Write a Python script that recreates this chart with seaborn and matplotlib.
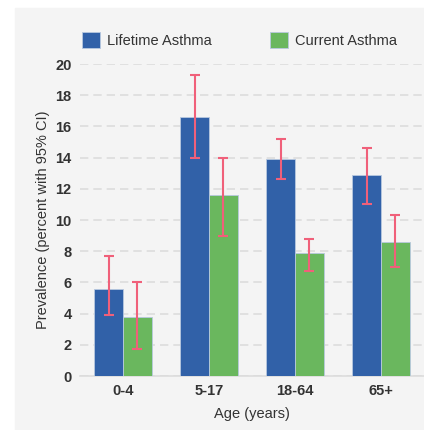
import matplotlib
matplotlib.use("Agg")
import matplotlib.pyplot as plt
import matplotlib.patches as mpatches
import pandas as pd
import seaborn as sns

ages = ["0-4", "5-17", "18-64", "65+"]
series = ["Lifetime Asthma", "Current Asthma"]
lifetime = [5.6, 16.6, 13.9, 12.9]
lifetime_lo = [3.9, 14.0, 12.6, 11.0]
lifetime_hi = [7.7, 19.3, 15.2, 14.6]
current = [3.8, 11.6, 7.9, 8.6]
current_lo = [1.7, 9.0, 6.7, 7.0]
current_hi = [6.0, 14.0, 8.8, 10.3]

df = pd.DataFrame({
    "age": ages * 2,
    "series": [series[0]] * 4 + [series[1]] * 4,
    "value": lifetime + current,
    "lo": lifetime_lo + current_lo,
    "hi": lifetime_hi + current_hi,
})

sns.set_style("white")
plt.rcParams["font.family"] = ["Liberation Sans", "DejaVu Sans"]

fig = plt.figure(figsize=(4.24, 4.30), dpi=100)
bg = "#f4f4f4"
fig.add_artist(mpatches.Rectangle((15 / 424, 0), 1, 1 - 8 / 430,
                                  transform=fig.transFigure, color=bg, zorder=-10))
ax = fig.add_axes([80 / 424, 54 / 430, 344 / 424, 312 / 430])
ax.set_facecolor(bg)

palette = {"Lifetime Asthma": "#3161a8", "Current Asthma": "#6ab75e"}
sns.barplot(data=df, x="age", y="value", hue="series", order=ages, hue_order=series,
            palette=palette, errorbar=None, width=0.665, saturation=1,
            edgecolor="#b8c8e0", linewidth=0.6, ax=ax, zorder=3)

# error bars (95% CI)
for cont, s in zip(ax.containers, series):
    sub = df[df["series"] == s].set_index("age").loc[ages]
    xs = [b.get_x() + b.get_width() / 2 for b in cont]
    ax.errorbar(xs, sub["value"], yerr=[sub["value"] - sub["lo"], sub["hi"] - sub["value"]],
                fmt="none", ecolor="#f0607a", elinewidth=1.5, capsize=3.5, capthick=1.5, zorder=4)

ax.set_ylim(0, 20)
ax.set_xlim(-0.5, 3.5)
ax.set_yticks(range(0, 21, 2))
ax.yaxis.grid(True, linestyle=(0, (5, 3)), color="#dcdcdc", linewidth=1.2, zorder=0)
ax.set_axisbelow(True)
for sp in ["top", "right", "left"]:
    ax.spines[sp].set_visible(False)
ax.spines["bottom"].set_color("#dcdcdc")
ax.spines["bottom"].set_linewidth(1.2)
ax.tick_params(length=0, labelsize=10.5, labelcolor="#333333", pad=6)
for t in ax.get_xticklabels() + ax.get_yticklabels():
    t.set_fontweight("bold")
ax.set_xlabel("Age (years)", fontsize=10.5, color="#333333", labelpad=6)
ax.set_ylabel("Prevalence (percent with 95% CI)", fontsize=10.5, color="#333333", labelpad=4)

handles = [mpatches.Patch(facecolor=palette[s], edgecolor="#b8c8e0", linewidth=0.6) for s in series]
ax.legend(handles, series, loc="center left", bbox_to_anchor=(82 / 424, 1 - 40 / 430),
          bbox_transform=fig.transFigure, ncol=2, frameon=False, fontsize=10.5,
          handlelength=1.25, handleheight=1.25, handletextpad=0.45, columnspacing=4.0,
          labelcolor="#333333", borderaxespad=0, borderpad=0)

fig.savefig("out.png", dpi=100)
